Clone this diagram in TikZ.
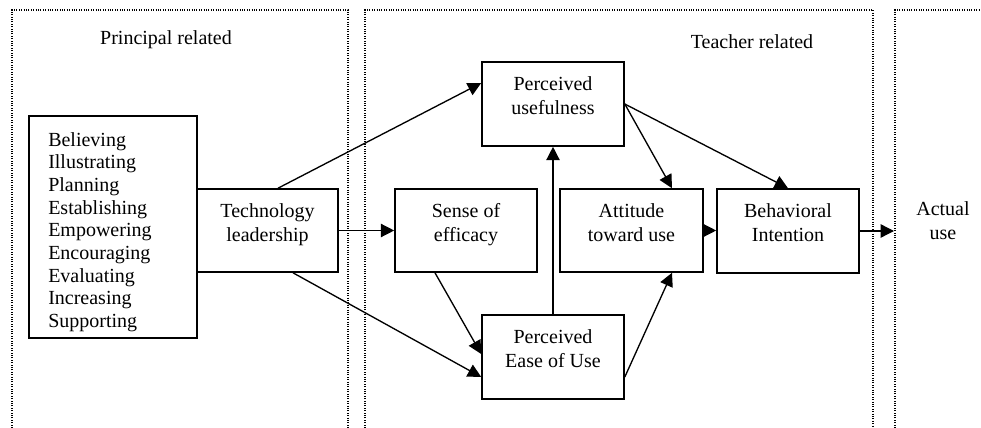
\documentclass[tikz,border=0pt]{standalone}
\usepackage{fontspec}
\setmainfont{Liberation Serif}
\usetikzlibrary{arrows.meta,calc}
\begin{document}
\begin{tikzpicture}[x=0.75pt,y=-0.75pt,
  font=\fontsize{15pt}{18pt}\selectfont,
  frame/.style={densely dotted,line width=0.8pt},
  box/.style={draw,line width=1.2pt,rectangle,inner sep=0pt},
  boxtext/.style={anchor=north,inner sep=0pt,align=center,yshift=-11pt},
  arr/.style={line width=1pt,-{Triangle[length=10pt,width=10pt]}}]
\useasboundingbox (0,0) rectangle (981,428);
% frames
\draw[frame] (12,428) -- (12,10) -- (348,10) -- (348,428);
\draw[frame] (365,428) -- (365,10) -- (873,10) -- (873,428);
\draw[frame] (895,428) -- (895,10) -- (981,10);
\node (plab) at (166,40) {Principal related};
\node (tlab) at (752,42) {Teacher related};
\node[align=center] (au) at (943,221) {Actual\\use};
% boxes
\node[box,minimum width=168*0.75pt,minimum height=222*0.75pt] (list) at (113,227) {};
\node[anchor=west,align=left,inner sep=0pt,font=\fontsize{15pt}{17pt}\selectfont] (listtext) at (48,232) {Believing\\Illustrating\\Planning\\Establishing\\Empowering\\Encouraging\\Evaluating\\Increasing\\Supporting};
\node[box,minimum width=141*0.75pt,minimum height=83*0.75pt] (tl) at (267.5,230.5) {};
\node[boxtext] at (tl.north) {Technology\\leadership};
\node[box,minimum width=142*0.75pt,minimum height=84*0.75pt] (pu) at (553,104) {};
\node[boxtext] at (pu.north) {Perceived\\usefulness};
\node[box,minimum width=142*0.75pt,minimum height=83*0.75pt] (soe) at (466,230.5) {};
\node[boxtext] at (soe.north) {Sense of\\efficacy};
\node[box,minimum width=143*0.75pt,minimum height=83*0.75pt] (att) at (631.5,230.5) {};
\node[boxtext] at (att.north) {Attitude\\toward use};
\node[box,minimum width=142*0.75pt,minimum height=84*0.75pt] (bi) at (788,231) {};
\node[boxtext] at (bi.north) {Behavioral\\Intention};
\node[box,minimum width=142*0.75pt,minimum height=84*0.75pt] (peou) at (553,357) {};
\node[boxtext] at (peou.north) {Perceived\\Ease of Use};
\coordinate (auin) at (894,231);
% arrows
\draw[arr] ($(tl.north)+(10.5,0)$) -- ($(pu.west)+(0,-21)$);
\draw[arr] (tl.east |- soe.west) -- (soe.west);
\draw[arr] ($(tl.south)+(25.5,0)$) -- ($(peou.west)+(0,20)$);
\draw[arr] ($(soe.south)+(-31,0)$) -- ($(peou.west)+(0,-3)$);
\draw[arr] (peou.north) -- (pu.south);
\draw[arr] ($(peou.east)+(0,20)$) -- ($(att.south)+(40.5,0)$);
\draw[arr] (pu.east) -- ($(att.north)+(40.5,0)$);
\draw[arr] (pu.east) -- (bi.north);
\draw[arr] (att.east) -- (att.east -| bi.west);
\draw[arr] (bi.east) -- (auin);
\end{tikzpicture}
\end{document}
